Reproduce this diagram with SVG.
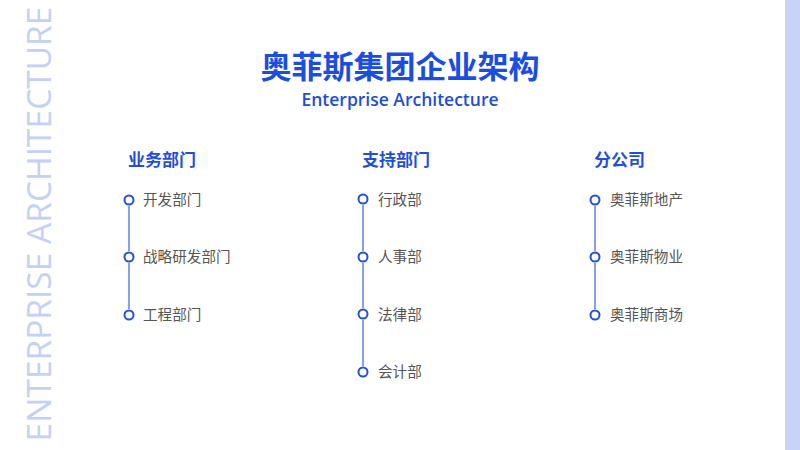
<svg xmlns="http://www.w3.org/2000/svg" width="800" height="450" viewBox="0 0 800 450">
<style>
.t{font-family:"Noto Sans CJK SC","Noto Sans",sans-serif}
.h{font-size:17px;font-weight:bold;fill:#1f4fd8}
.i{font-size:14.6px;fill:#555}
.c{fill:#fff;stroke:#2350d6;stroke-width:2}
.l{stroke:#5b82e6;stroke-width:1.5}
</style>
<rect width="800" height="450" fill="#fff"/>
<rect x="785" y="0" width="15" height="450" fill="#c7d3f7"/>
<text transform="translate(51,224) rotate(-90)" text-anchor="middle" font-family="'Open Sans',sans-serif" font-size="33.5" fill="#c5d0f5">ENTERPRISE ARCHITECTURE</text>
<text class="t" x="400" y="78" text-anchor="middle" font-size="31" font-weight="bold" fill="#1a4ee0">奥菲斯集团企业架构</text>
<text x="400" y="106" text-anchor="middle" font-family="'Open Sans',sans-serif" font-size="17.5" font-weight="600" fill="#1e4fd0">Enterprise Architecture</text>
<g id="connectors">
<line class="l" x1="129" y1="206" x2="129" y2="251"/><line class="l" x1="129" y1="263" x2="129" y2="309"/>
<line class="l" x1="363" y1="205" x2="363" y2="251"/><line class="l" x1="363" y1="263" x2="363" y2="308"/><line class="l" x1="363" y1="320" x2="363" y2="366"/>
<line class="l" x1="595" y1="206" x2="595" y2="251"/><line class="l" x1="595" y1="263" x2="595" y2="309"/>
</g>
<g id="col1">
<text class="t h" x="128" y="166">业务部门</text>
<g id="n11"><circle class="c" cx="129" cy="200" r="4.5"/><text class="t i" x="143" y="205">开发部门</text></g>
<g id="n12"><circle class="c" cx="129" cy="257" r="4.5"/><text class="t i" x="143" y="262">战略研发部门</text></g>
<g id="n13"><circle class="c" cx="129" cy="315" r="4.5"/><text class="t i" x="143" y="320">工程部门</text></g>
</g>
<g id="col2">
<text class="t h" x="362" y="166">支持部门</text>
<g id="n21"><circle class="c" cx="363" cy="199" r="4.5"/><text class="t i" x="378" y="205">行政部</text></g>
<g id="n22"><circle class="c" cx="363" cy="257" r="4.5"/><text class="t i" x="378" y="262">人事部</text></g>
<g id="n23"><circle class="c" cx="363" cy="314" r="4.5"/><text class="t i" x="378" y="320">法律部</text></g>
<g id="n24"><circle class="c" cx="363" cy="372" r="4.5"/><text class="t i" x="378" y="377">会计部</text></g>
</g>
<g id="col3">
<text class="t h" x="594" y="166">分公司</text>
<g id="n31"><circle class="c" cx="595" cy="200" r="4.5"/><text class="t i" x="610" y="205">奥菲斯地产</text></g>
<g id="n32"><circle class="c" cx="595" cy="257" r="4.5"/><text class="t i" x="610" y="262">奥菲斯物业</text></g>
<g id="n33"><circle class="c" cx="595" cy="315" r="4.5"/><text class="t i" x="610" y="320">奥菲斯商场</text></g>
</g>
</svg>
